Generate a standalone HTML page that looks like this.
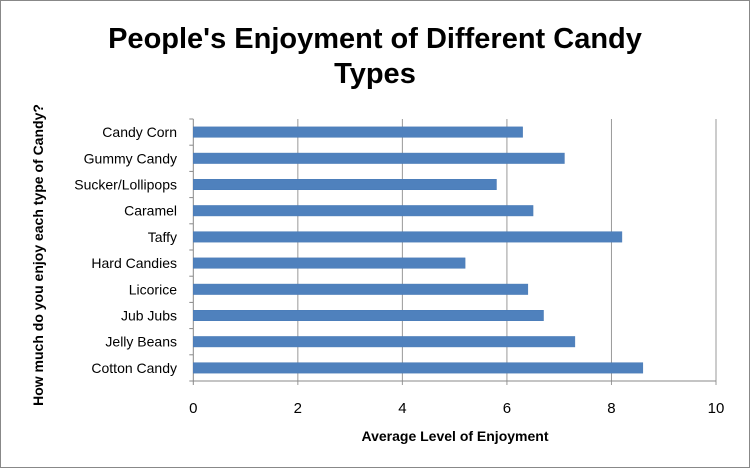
<!DOCTYPE html>
<html><head><meta charset="utf-8"><style>
body{margin:0;background:#fff}
svg{display:block;font-family:"Liberation Sans",Calibri,sans-serif}
</style></head><body>
<svg id="chart" width="750" height="468">
<rect x="0.5" y="0.5" width="749" height="467" fill="#fff" stroke="#888"/>
<text x="375" y="48" text-anchor="middle" font-size="29" font-weight="bold">People's Enjoyment of Different Candy</text>
<text x="375" y="83" text-anchor="middle" font-size="29" font-weight="bold">Types</text>
<text x="455" y="441" text-anchor="middle" font-size="14" font-weight="bold">Average Level of Enjoyment</text>
<text transform="translate(43,255) rotate(-90)" text-anchor="middle" font-size="14" font-weight="bold">How much do you enjoy each type of Candy?</text>
<g id="grid"></g><g id="bars"></g><g id="labels"></g>
</svg>
<script>
const categories=["Candy Corn","Gummy Candy","Sucker/Lollipops","Caramel","Taffy","Hard Candies","Licorice","Jub Jubs","Jelly Beans","Cotton Candy"];
const values=[6.3,7.1,5.8,6.5,8.2,5.2,6.4,6.7,7.3,8.6];
const ticks=[0,2,4,6,8,10];
const NS="http://www.w3.org/2000/svg";
const X0=193.3,X1=716,Y0=119,Y1=381,MAX=10;
const x=v=>X0+(v/MAX)*(X1-X0);
const band=(Y1-Y0)/categories.length;
const y=i=>Y0+i*band;
function mk(t,a,p){const e=document.createElementNS(NS,t);for(const k in a)e.setAttribute(k,a[k]);p.appendChild(e);return e;}
const grid=document.getElementById('grid'),bars=document.getElementById('bars'),labels=document.getElementById('labels');
ticks.forEach(t=>{
 const l=mk('line',{x1:x(t),x2:x(t),y1:Y0,y2:Y1+4,stroke:t===0?'#888':'#999','stroke-width':1},grid);
 
 
 const tx=mk('text',{x:x(t),y:Y1+32,'text-anchor':'middle','font-size':15},labels);
 tx.textContent=t;
 
 
});
const ax=mk('line',{x1:X0,x2:X1,y1:Y1,y2:Y1,stroke:'#888'},grid);


for(let i=0;i<=categories.length;i++){
 const tk=mk('line',{x1:X0-4,x2:X0,y1:y(i),y2:y(i),stroke:'#888'},grid);
 
 
}
categories.forEach((c,i)=>{
 const h=band*0.4, cy=y(i)+band/2;
 const r=mk('rect',{x:X0,y:cy-h/2,width:x(values[i])-X0,height:h,fill:'#4f81bd',stroke:'#4a7ab5','stroke-width':0.5},bars);
 
 
 const t=mk('text',{x:177,y:cy+5,'text-anchor':'end','font-size':14},labels);
 t.textContent=c;
 
 
});
</script>
</body></html>
